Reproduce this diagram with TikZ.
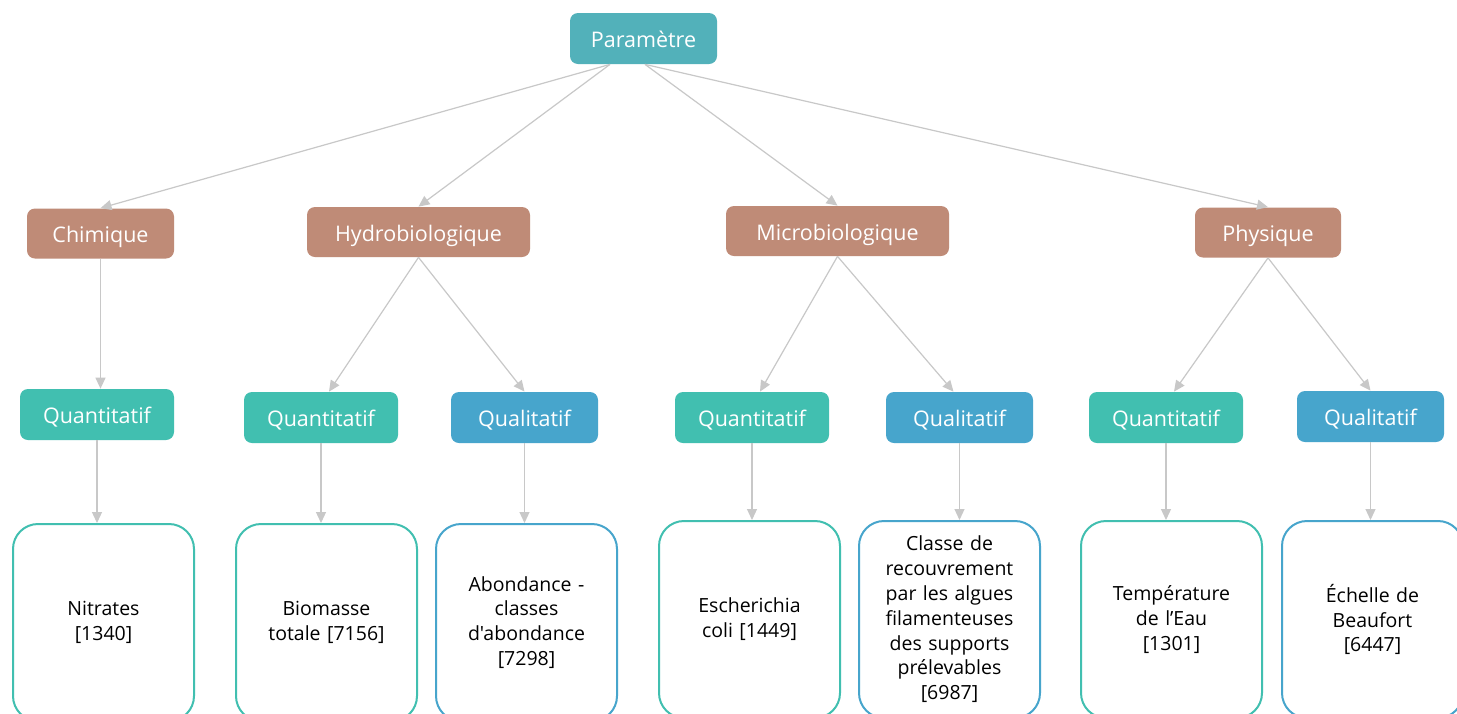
\documentclass[tikz,border=0pt]{standalone}
\usepackage{fontspec}
\setmainfont{Open Sans}[Ligatures=TeXOff]
\usetikzlibrary{arrows.meta}

\definecolor{paramteal}{RGB}{82,177,186}
\definecolor{catbrown}{RGB}{191,139,119}
\definecolor{quantgreen}{RGB}{65,191,176}
\definecolor{qualblue}{RGB}{71,165,204}
\definecolor{edgegray}{RGB}{200,200,200}

\tikzset{every picture/.style={line width=0.75pt}}
\tikzset{
  head/.style={rounded corners=8pt, text=white, minimum height=50pt, inner sep=0pt, text height=18pt, text depth=0pt, font=\fontsize{21.5}{24}\selectfont},
  param/.style={head, fill=paramteal, minimum width=147pt, minimum height=51pt},
  categ/.style={head, fill=catbrown},
  quant/.style={head, fill=quantgreen, minimum width=154pt, minimum height=51pt},
  qual/.style={head, fill=qualblue, minimum width=147pt, minimum height=51pt},
  leaf/.style={draw, line width=2pt, fill=white, rounded corners=25pt, minimum width=181pt, minimum height=197pt, text width=165pt, align=center, inner sep=0pt, font=\fontsize{19.5}{24.8}\selectfont},
  quantleaf/.style={leaf, draw=quantgreen},
  qualleaf/.style={leaf, draw=qualblue},
  link/.style={draw=edgegray, line width=1.2pt, -{Triangle[width=10pt,length=11pt]}},
}

\begin{document}
\begin{tikzpicture}[x=1pt,y=1pt,yscale=-1,xscale=1]
		\clip (0,0) rectangle (1457,713);
		\fill[white] (0,0) rectangle (1457,713);

		% Root
		\node[param] (param) at (643.5,38.5) {Paramètre};

		% Categories
		\node[categ, minimum width=147pt] (chim) at (100.5,233.5) {Chimique};
		\node[categ, minimum width=223pt] (hydro) at (418.5,232) {Hydrobiologique};
		\node[categ, minimum width=223pt] (micro) at (837.5,231) {Microbiologique};
		\node[categ, minimum width=146pt] (phys) at (1268,232.5) {Physique};

		% Types
		\node[quant] (q1) at (97,414.5) {Quantitatif};
		\node[quant] (q2) at (321,417.5) {Quantitatif};
		\node[qual] (l2) at (524.5,417.5) {Qualitatif};
		\node[quant] (q3) at (752,417.5) {Quantitatif};
		\node[qual] (l3) at (959.5,417.5) {Qualitatif};
		\node[quant] (q4) at (1166,417.5) {Quantitatif};
		\node[qual] (l4) at (1370.5,416.5) {Qualitatif};

		% Leaves
		\node[quantleaf] (nitr) at (103.5,622.5) {Nitrates\\{[}1340{]}};
		\node[quantleaf] (biom) at (326.5,622.5) {Biomasse\\totale {[}7156{]}};
		\node[qualleaf] (abon) at (526.5,622.5) {Abondance -\\classes\\d'abondance\\{[}7298{]}};
		\node[quantleaf] (esch) at (749.5,619.5) {Escherichia\\coli {[}1449{]}};
		\node[qualleaf] (clas) at (949.5,619.5) {Classe de\\recouvrement\\par les algues\\filamenteuses\\des supports\\prélevables\\{[}6987{]}};
		\node[quantleaf] (temp) at (1171.5,619.5) {Température\\de l’Eau\\{[}1301{]}};
		\node[qualleaf] (echl) at (1372.5,619.5) {Échelle de\\Beaufort\\{[}6447{]}};

		% Root to categories
		\draw[link] ([xshift=-33.5pt]param.south) -- (chim.north);
		\draw[link] ([xshift=-33.5pt]param.south) -- (hydro.north);
		\draw[link] ([xshift=1.5pt]param.south) -- (micro.north);
		\draw[link] ([xshift=1.5pt]param.south) -- (phys.north);

		% Categories to types
		\draw[link] (chim) -- (chim |- q1.north);
		\draw[link] (hydro.south) -- ([xshift=8pt]q2.north);
		\draw[link] (hydro.south) -- (l2.north);
		\draw[link] (micro.south) -- ([xshift=8pt]q3.north);
		\draw[link] (micro.south) -- ([xshift=-6pt]l3.north);
		\draw[link] (phys.south) -- ([xshift=8pt]q4.north);
		\draw[link] (phys.south) -- (l4.north);

		% Types to leaves
		\draw[link] (q1) -- (q1 |- nitr.north);
		\draw[link] (q2) -- (q2 |- biom.north);
		\draw[link] (l2) -- (l2 |- abon.north);
		\draw[link] (q3) -- (q3 |- esch.north);
		\draw[link] (l3) -- (l3 |- clas.north);
		\draw[link] (q4) -- (q4 |- temp.north);
		\draw[link] (l4) -- (l4 |- echl.north);
\end{tikzpicture}
\end{document}
